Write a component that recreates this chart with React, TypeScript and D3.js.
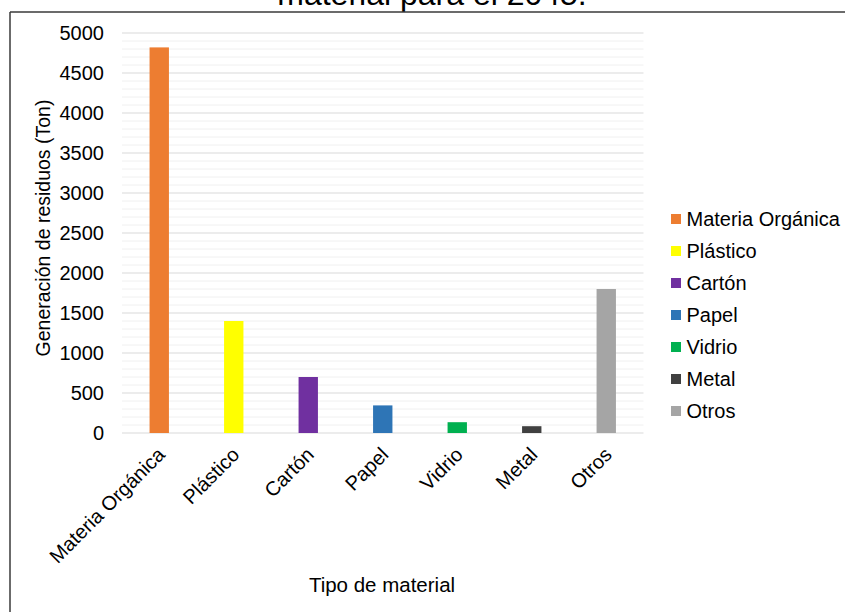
import React from "react";
import * as d3 from "d3";

const categories = ["Materia Orgánica", "Plástico", "Cartón", "Papel", "Vidrio", "Metal", "Otros"];
const values = [4820, 1400, 700, 345, 135, 85, 1800];
const colors = ["#ED7D31", "#FFFF00", "#7030A0", "#2E75B6", "#00B050", "#404040", "#A5A5A5"];
const yTicks = [0, 500, 1000, 1500, 2000, 2500, 3000, 3500, 4000, 4500, 5000];
const titleText = "material para el 2045.";
const yAxisTitle = "Generación de residuos (Ton)";
const xAxisTitle = "Tipo de material";

const W = 845;
const H = 612;
const FONT = "'Liberation Sans', Arial, sans-serif";

export default function App() {
  const x = d3.scaleBand<string>().domain(categories).range([122, 643.5]).paddingInner(0.74).paddingOuter(0.37);
  const y = d3.scaleLinear().domain([0, 5000]).range([433, 33]);
  const minor = d3.range(0, 5001, 100);

  return (
    <svg width={W} height={H} style={{ position: "absolute", left: 0, top: 0, background: "#fff" }} fontFamily={FONT}>
      <rect x={0} y={0} width={W} height={H} fill="#fff" />
      {/* title (cut off) */}
      <text x={432} y={5} fontSize={32} textAnchor="middle" fill="#000">{titleText}</text>
      {/* frame */}
      <line x1={10} y1={12} x2={W} y2={12} stroke="#3a3a3a" strokeWidth={1.5} />
      <line x1={10} y1={12} x2={10} y2={H} stroke="#3a3a3a" strokeWidth={1.5} />

      {/* grid */}
      {minor.filter((v) => v % 500 !== 0).map((v) => (
        <line key={"m" + v} x1={122} x2={643.5} y1={y(v)} y2={y(v)} stroke="#f0f0f0" strokeWidth={1} />
      ))}
      {yTicks.map((v) => (
        <line key={"g" + v} x1={122} x2={643.5} y1={y(v)} y2={y(v)} stroke="#d9d9d9" strokeWidth={1} />
      ))}

      {/* bars */}
      {categories.map((c, i) => (
        <rect key={c} x={x(c)} y={y(values[i])} width={x.bandwidth()} height={y(0) - y(values[i])} fill={colors[i]} />
      ))}

      {/* y tick labels */}
      {yTicks.map((v) => (
        <text key={"t" + v} x={104} y={y(v)} dy="0.35em" fontSize={20} textAnchor="end" fill="#000">{v}</text>
      ))}

      {/* x tick labels */}
      {categories.map((c) => (
        <text
          key={"x" + c}
          transform={`translate(${(x(c) as number) + x.bandwidth() / 2 + 2},${451}) rotate(-45)`}
          fontSize={20}
          textAnchor="end"
          dy="0.35em"
          fill="#000"
        >
          {c}
        </text>
      ))}

      {/* axis titles */}
      <text transform={`translate(50,228) rotate(-90)`} fontSize={19.5} textAnchor="middle" fill="#000">{yAxisTitle}</text>
      <text x={382} y={592} fontSize={20.5} textAnchor="middle" fill="#000">{xAxisTitle}</text>

      {/* legend */}
      {categories.map((c, i) => (
        <g key={"l" + c} transform={`translate(671,${219 + i * 32})`}>
          <rect x={0} y={-5} width={10} height={10} fill={colors[i]} />
          <text x={15.5} y={0} dy="0.35em" fontSize={20} fill="#000">{c}</text>
        </g>
      ))}
    </svg>
  );
}
